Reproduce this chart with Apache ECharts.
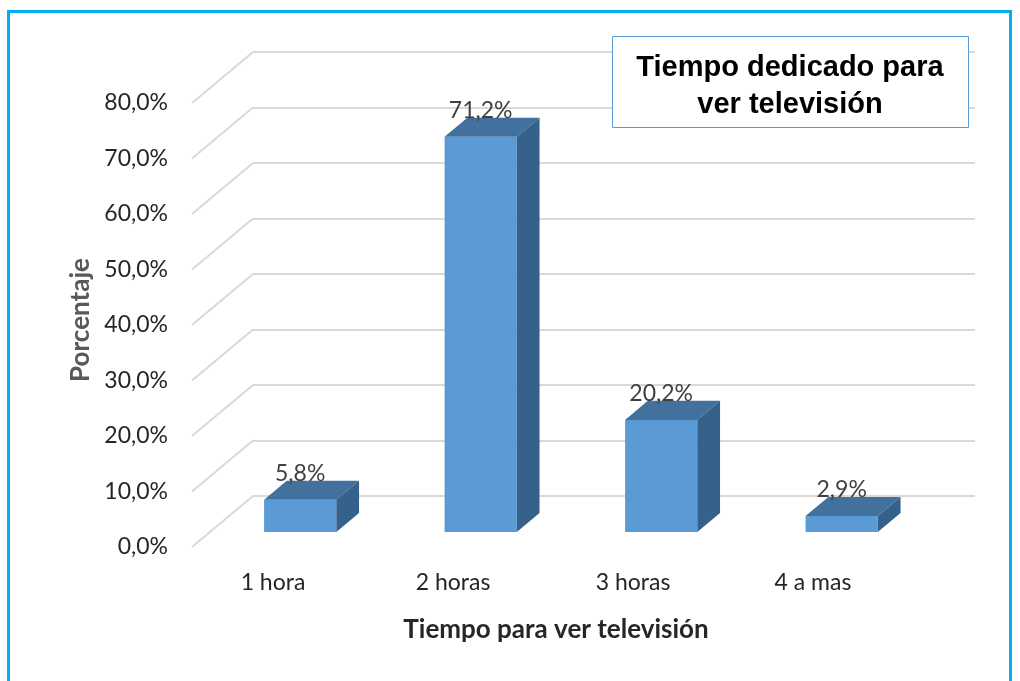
<!DOCTYPE html>
<html>
<head>
<meta charset="utf-8">
<script src="https://cdn.jsdelivr.net/npm/echarts@6/dist/echarts.min.js"></script>
<style>
  html, body { margin: 0; background: #fff; }
  #chart { width: 1020px; height: 681px; }
</style>
</head>
<body>
<div id="chart"></div>
<script>
const categories = ['1 hora', '2 horas', '3 horas', '4 a mas'];
const values = [5.8, 71.2, 20.2, 2.9];
const yTicks = [0, 10, 20, 30, 40, 50, 60, 70, 80];

// floor depth in px, back wall -> front edge
const DX = -61, DY = 51;
// bar sits between these depth fractions
const D_BACK = 0.333, D_FRONT = 0.706;

const FONT = 'Lato, "Open Sans", sans-serif';
const fmt = v => v.toFixed(1).replace('.', ',') + '%';

const chart = echarts.init(document.getElementById('chart'));

function renderBar(params, api) {
  const i = api.value(0), v = api.value(1);
  const base = api.coord([i, 0]);
  const top = api.coord([i, v]);
  const w = api.size([1, 0])[0] * 0.4;
  const fx = base[0] + DX * D_FRONT - w / 2;
  const fy0 = base[1] + DY * D_FRONT, fy1 = top[1] + DY * D_FRONT;
  const bx = base[0] + DX * D_BACK - w / 2;
  const by0 = base[1] + DY * D_BACK, by1 = top[1] + DY * D_BACK;
  return {
    type: 'group',
    children: [
      { type: 'rect', shape: { x: fx, y: fy1, width: w, height: fy0 - fy1 },
        style: { fill: '#5B9BD5' } },
      { type: 'polygon', shape: { points: [[fx, fy1], [fx + w, fy1], [bx + w, by1], [bx, by1]] },
        style: { fill: '#41719C' } },
      { type: 'polygon', shape: { points: [[fx + w, fy1], [bx + w, by1], [bx + w, by0], [fx + w, fy0]] },
        style: { fill: '#36618A' } },
      { type: 'text', x: fx + w / 2, y: by1 + 4,
        style: { text: fmt(v), align: 'center', verticalAlign: 'bottom',
                 font: '23px ' + FONT, fill: '#404040' } }
    ]
  };
}

function renderWall(params, api) {
  const p = api.coord([0, api.value(1)]);
  const x0 = params.coordSys.x;
  return {
    type: 'line',
    shape: { x1: x0, y1: p[1], x2: x0 + DX, y2: p[1] + DY },
    style: { stroke: '#D9D9D9', lineWidth: 2 }
  };
}

const option = {
  animation: false,
  backgroundColor: '#fff',
  grid: [
    { left: 253, top: 52, width: 722, height: 444 },   // back wall
    { left: 183, top: 103, width: 720, height: 444 }   // front edge, labels
  ],
  xAxis: [
    { gridIndex: 0, type: 'category', data: categories, show: false },
    { gridIndex: 1, type: 'category', data: categories,
      axisLine: { show: false }, axisTick: { show: false },
      axisLabel: { margin: 24, color: '#262626', fontSize: 23, fontFamily: FONT },
      name: 'Tiempo para ver televisión', nameLocation: 'middle', nameGap: 70,
      nameTextStyle: { fontWeight: 'bold', fontSize: 26, fontFamily: FONT, color: '#262626',
                       padding: [0, 0, 0, 26] } }
  ],
  yAxis: [
    { gridIndex: 0, type: 'value', min: 0, max: 80, interval: 10,
      axisLine: { show: false }, axisTick: { show: false }, axisLabel: { show: false },
      splitLine: { lineStyle: { color: '#D9D9D9', width: 2 } } },
    { gridIndex: 1, type: 'value', min: 0, max: 80, interval: 10,
      axisLine: { show: false }, axisTick: { show: false }, splitLine: { show: false },
      axisLabel: { margin: 15, color: '#262626', fontSize: 23, fontFamily: FONT, formatter: fmt },
      name: 'Porcentaje', nameLocation: 'middle', nameGap: 88, nameRotate: 90,
      nameTextStyle: { fontWeight: 'bold', fontSize: 26, fontFamily: FONT, color: '#595959',
                       padding: [0, 0, 0, 10] } }
  ],
  series: [
    { type: 'custom', xAxisIndex: 0, yAxisIndex: 0, renderItem: renderWall,
      data: yTicks.map(t => [0, t]), silent: true, z: 1 },
    { type: 'custom', xAxisIndex: 0, yAxisIndex: 0, renderItem: renderBar,
      data: values.map((v, i) => [i, v]), z: 3 }
  ],
  graphic: [
    { type: 'rect', shape: { x: 8.5, y: 11.5, width: 1002, height: 700 },
      style: { fill: null, stroke: '#00B0F0', lineWidth: 3 }, z: 10 },
    { type: 'rect', shape: { x: 612.5, y: 36.5, width: 356, height: 91 },
      style: { fill: '#fff', stroke: '#5B9BD5', lineWidth: 1 }, z: 10 },
    { type: 'text', x: 790, y: 86, z: 11,
      style: { text: 'Tiempo dedicado para\nver televisión', align: 'center', verticalAlign: 'middle',
               font: 'bold 29px "Liberation Sans", Arial, sans-serif', lineHeight: 37, fill: '#000' } }
  ]
};

chart.setOption(option);
</script>
</body>
</html>
